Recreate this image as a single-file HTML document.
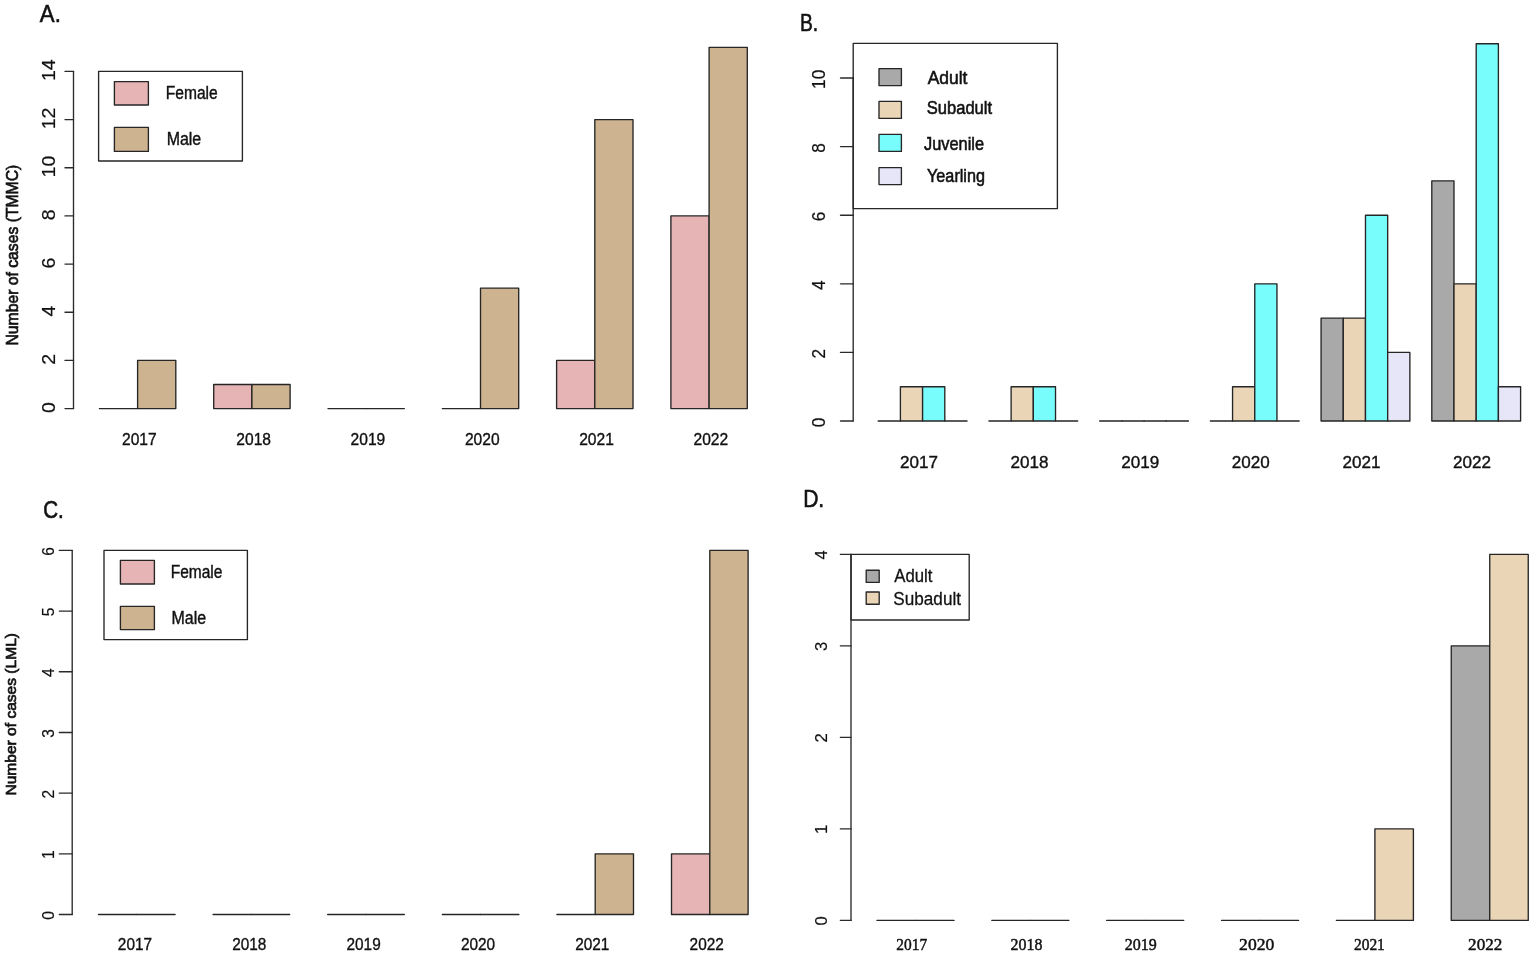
<!DOCTYPE html>
<html><head><meta charset="utf-8"><title>Figure</title>
<style>html,body{margin:0;padding:0;background:#fff;width:1535px;height:958px;overflow:hidden}svg{display:block}</style>
</head><body>
<svg width="1535" height="958" viewBox="0 0 1535 958">
<rect x="0" y="0" width="1535" height="958" fill="#fff"/>
<line x1="73.50" y1="408.60" x2="73.50" y2="71.40" stroke="#2a2a2a" stroke-width="1.35" stroke-linecap="round"/>
<line x1="65.00" y1="408.60" x2="73.50" y2="408.60" stroke="#2a2a2a" stroke-width="1.35" stroke-linecap="round"/>
<line x1="65.00" y1="360.43" x2="73.50" y2="360.43" stroke="#2a2a2a" stroke-width="1.35" stroke-linecap="round"/>
<line x1="65.00" y1="312.26" x2="73.50" y2="312.26" stroke="#2a2a2a" stroke-width="1.35" stroke-linecap="round"/>
<line x1="65.00" y1="264.09" x2="73.50" y2="264.09" stroke="#2a2a2a" stroke-width="1.35" stroke-linecap="round"/>
<line x1="65.00" y1="215.91" x2="73.50" y2="215.91" stroke="#2a2a2a" stroke-width="1.35" stroke-linecap="round"/>
<line x1="65.00" y1="167.74" x2="73.50" y2="167.74" stroke="#2a2a2a" stroke-width="1.35" stroke-linecap="round"/>
<line x1="65.00" y1="119.57" x2="73.50" y2="119.57" stroke="#2a2a2a" stroke-width="1.35" stroke-linecap="round"/>
<line x1="65.00" y1="71.40" x2="73.50" y2="71.40" stroke="#2a2a2a" stroke-width="1.35" stroke-linecap="round"/>
<line x1="99.40" y1="408.60" x2="137.60" y2="408.60" stroke="#262626" stroke-width="1.35" stroke-linecap="round"/>
<rect x="137.60" y="360.43" width="38.20" height="48.17" fill="#CDB38F" stroke="#262626" stroke-width="1.35" stroke-linejoin="round"/>
<rect x="213.70" y="384.51" width="38.20" height="24.09" fill="#E6B4B5" stroke="#262626" stroke-width="1.35" stroke-linejoin="round"/>
<rect x="251.90" y="384.51" width="38.20" height="24.09" fill="#CDB38F" stroke="#262626" stroke-width="1.35" stroke-linejoin="round"/>
<line x1="328.00" y1="408.60" x2="366.20" y2="408.60" stroke="#262626" stroke-width="1.35" stroke-linecap="round"/>
<line x1="366.20" y1="408.60" x2="404.40" y2="408.60" stroke="#262626" stroke-width="1.35" stroke-linecap="round"/>
<line x1="442.30" y1="408.60" x2="480.50" y2="408.60" stroke="#262626" stroke-width="1.35" stroke-linecap="round"/>
<rect x="480.50" y="288.17" width="38.20" height="120.43" fill="#CDB38F" stroke="#262626" stroke-width="1.35" stroke-linejoin="round"/>
<rect x="556.60" y="360.43" width="38.20" height="48.17" fill="#E6B4B5" stroke="#262626" stroke-width="1.35" stroke-linejoin="round"/>
<rect x="594.80" y="119.57" width="38.20" height="289.03" fill="#CDB38F" stroke="#262626" stroke-width="1.35" stroke-linejoin="round"/>
<rect x="670.90" y="215.91" width="38.20" height="192.69" fill="#E6B4B5" stroke="#262626" stroke-width="1.35" stroke-linejoin="round"/>
<rect x="709.10" y="47.31" width="38.20" height="361.29" fill="#CDB38F" stroke="#262626" stroke-width="1.35" stroke-linejoin="round"/>
<rect x="98.60" y="71.40" width="143.80" height="89.60" fill="none" stroke="#262626" stroke-width="1.35" stroke-linejoin="round"/>
<rect x="114.40" y="81.60" width="34.00" height="23.40" fill="#E6B4B5" stroke="#262626" stroke-width="1.35" stroke-linejoin="round"/>
<rect x="114.40" y="127.40" width="34.00" height="24.00" fill="#CDB38F" stroke="#262626" stroke-width="1.35" stroke-linejoin="round"/>
<line x1="853.20" y1="421.00" x2="853.20" y2="78.00" stroke="#2a2a2a" stroke-width="1.35" stroke-linecap="round"/>
<line x1="840.50" y1="421.00" x2="853.20" y2="421.00" stroke="#2a2a2a" stroke-width="1.35" stroke-linecap="round"/>
<line x1="840.50" y1="352.40" x2="853.20" y2="352.40" stroke="#2a2a2a" stroke-width="1.35" stroke-linecap="round"/>
<line x1="840.50" y1="283.80" x2="853.20" y2="283.80" stroke="#2a2a2a" stroke-width="1.35" stroke-linecap="round"/>
<line x1="840.50" y1="215.20" x2="853.20" y2="215.20" stroke="#2a2a2a" stroke-width="1.35" stroke-linecap="round"/>
<line x1="840.50" y1="146.60" x2="853.20" y2="146.60" stroke="#2a2a2a" stroke-width="1.35" stroke-linecap="round"/>
<line x1="840.50" y1="78.00" x2="853.20" y2="78.00" stroke="#2a2a2a" stroke-width="1.35" stroke-linecap="round"/>
<line x1="878.20" y1="421.00" x2="900.40" y2="421.00" stroke="#262626" stroke-width="1.35" stroke-linecap="round"/>
<rect x="900.40" y="386.70" width="22.20" height="34.30" fill="#EBD5B7" stroke="#262626" stroke-width="1.35" stroke-linejoin="round"/>
<rect x="922.60" y="386.70" width="22.20" height="34.30" fill="#78FCFC" stroke="#262626" stroke-width="1.35" stroke-linejoin="round"/>
<line x1="944.80" y1="421.00" x2="967.00" y2="421.00" stroke="#262626" stroke-width="1.35" stroke-linecap="round"/>
<line x1="988.92" y1="421.00" x2="1011.12" y2="421.00" stroke="#262626" stroke-width="1.35" stroke-linecap="round"/>
<rect x="1011.12" y="386.70" width="22.20" height="34.30" fill="#EBD5B7" stroke="#262626" stroke-width="1.35" stroke-linejoin="round"/>
<rect x="1033.32" y="386.70" width="22.20" height="34.30" fill="#78FCFC" stroke="#262626" stroke-width="1.35" stroke-linejoin="round"/>
<line x1="1055.52" y1="421.00" x2="1077.72" y2="421.00" stroke="#262626" stroke-width="1.35" stroke-linecap="round"/>
<line x1="1099.64" y1="421.00" x2="1121.84" y2="421.00" stroke="#262626" stroke-width="1.35" stroke-linecap="round"/>
<line x1="1121.84" y1="421.00" x2="1144.04" y2="421.00" stroke="#262626" stroke-width="1.35" stroke-linecap="round"/>
<line x1="1144.04" y1="421.00" x2="1166.24" y2="421.00" stroke="#262626" stroke-width="1.35" stroke-linecap="round"/>
<line x1="1166.24" y1="421.00" x2="1188.44" y2="421.00" stroke="#262626" stroke-width="1.35" stroke-linecap="round"/>
<line x1="1210.36" y1="421.00" x2="1232.56" y2="421.00" stroke="#262626" stroke-width="1.35" stroke-linecap="round"/>
<rect x="1232.56" y="386.70" width="22.20" height="34.30" fill="#EBD5B7" stroke="#262626" stroke-width="1.35" stroke-linejoin="round"/>
<rect x="1254.76" y="283.80" width="22.20" height="137.20" fill="#78FCFC" stroke="#262626" stroke-width="1.35" stroke-linejoin="round"/>
<line x1="1276.96" y1="421.00" x2="1299.16" y2="421.00" stroke="#262626" stroke-width="1.35" stroke-linecap="round"/>
<rect x="1321.08" y="318.10" width="22.20" height="102.90" fill="#A9A9A9" stroke="#262626" stroke-width="1.35" stroke-linejoin="round"/>
<rect x="1343.28" y="318.10" width="22.20" height="102.90" fill="#EBD5B7" stroke="#262626" stroke-width="1.35" stroke-linejoin="round"/>
<rect x="1365.48" y="215.20" width="22.20" height="205.80" fill="#78FCFC" stroke="#262626" stroke-width="1.35" stroke-linejoin="round"/>
<rect x="1387.68" y="352.40" width="22.20" height="68.60" fill="#E6E6F8" stroke="#262626" stroke-width="1.35" stroke-linejoin="round"/>
<rect x="1431.80" y="180.90" width="22.20" height="240.10" fill="#A9A9A9" stroke="#262626" stroke-width="1.35" stroke-linejoin="round"/>
<rect x="1454.00" y="283.80" width="22.20" height="137.20" fill="#EBD5B7" stroke="#262626" stroke-width="1.35" stroke-linejoin="round"/>
<rect x="1476.20" y="43.70" width="22.20" height="377.30" fill="#78FCFC" stroke="#262626" stroke-width="1.35" stroke-linejoin="round"/>
<rect x="1498.40" y="386.70" width="22.20" height="34.30" fill="#E6E6F8" stroke="#262626" stroke-width="1.35" stroke-linejoin="round"/>
<rect x="853.20" y="43.40" width="204.20" height="165.20" fill="none" stroke="#262626" stroke-width="1.35" stroke-linejoin="round"/>
<rect x="879.00" y="68.60" width="22.40" height="17.00" fill="#A9A9A9" stroke="#262626" stroke-width="1.35" stroke-linejoin="round"/>
<rect x="879.00" y="101.40" width="22.40" height="17.00" fill="#EBD5B7" stroke="#262626" stroke-width="1.35" stroke-linejoin="round"/>
<rect x="879.00" y="134.40" width="22.40" height="17.00" fill="#78FCFC" stroke="#262626" stroke-width="1.35" stroke-linejoin="round"/>
<rect x="879.00" y="167.60" width="22.40" height="17.00" fill="#E6E6F8" stroke="#262626" stroke-width="1.35" stroke-linejoin="round"/>
<line x1="72.20" y1="914.50" x2="72.20" y2="550.40" stroke="#2a2a2a" stroke-width="1.35" stroke-linecap="round"/>
<line x1="59.30" y1="914.50" x2="72.20" y2="914.50" stroke="#2a2a2a" stroke-width="1.35" stroke-linecap="round"/>
<line x1="59.30" y1="853.82" x2="72.20" y2="853.82" stroke="#2a2a2a" stroke-width="1.35" stroke-linecap="round"/>
<line x1="59.30" y1="793.13" x2="72.20" y2="793.13" stroke="#2a2a2a" stroke-width="1.35" stroke-linecap="round"/>
<line x1="59.30" y1="732.45" x2="72.20" y2="732.45" stroke="#2a2a2a" stroke-width="1.35" stroke-linecap="round"/>
<line x1="59.30" y1="671.77" x2="72.20" y2="671.77" stroke="#2a2a2a" stroke-width="1.35" stroke-linecap="round"/>
<line x1="59.30" y1="611.08" x2="72.20" y2="611.08" stroke="#2a2a2a" stroke-width="1.35" stroke-linecap="round"/>
<line x1="59.30" y1="550.40" x2="72.20" y2="550.40" stroke="#2a2a2a" stroke-width="1.35" stroke-linecap="round"/>
<line x1="98.50" y1="914.50" x2="136.80" y2="914.50" stroke="#262626" stroke-width="1.35" stroke-linecap="round"/>
<line x1="136.80" y1="914.50" x2="175.10" y2="914.50" stroke="#262626" stroke-width="1.35" stroke-linecap="round"/>
<line x1="213.10" y1="914.50" x2="251.40" y2="914.50" stroke="#262626" stroke-width="1.35" stroke-linecap="round"/>
<line x1="251.40" y1="914.50" x2="289.70" y2="914.50" stroke="#262626" stroke-width="1.35" stroke-linecap="round"/>
<line x1="327.70" y1="914.50" x2="366.00" y2="914.50" stroke="#262626" stroke-width="1.35" stroke-linecap="round"/>
<line x1="366.00" y1="914.50" x2="404.30" y2="914.50" stroke="#262626" stroke-width="1.35" stroke-linecap="round"/>
<line x1="442.30" y1="914.50" x2="480.60" y2="914.50" stroke="#262626" stroke-width="1.35" stroke-linecap="round"/>
<line x1="480.60" y1="914.50" x2="518.90" y2="914.50" stroke="#262626" stroke-width="1.35" stroke-linecap="round"/>
<line x1="556.90" y1="914.50" x2="595.20" y2="914.50" stroke="#262626" stroke-width="1.35" stroke-linecap="round"/>
<rect x="595.20" y="853.82" width="38.30" height="60.68" fill="#CDB38F" stroke="#262626" stroke-width="1.35" stroke-linejoin="round"/>
<rect x="671.50" y="853.82" width="38.30" height="60.68" fill="#E6B4B5" stroke="#262626" stroke-width="1.35" stroke-linejoin="round"/>
<rect x="709.80" y="550.40" width="38.30" height="364.10" fill="#CDB38F" stroke="#262626" stroke-width="1.35" stroke-linejoin="round"/>
<rect x="104.00" y="550.40" width="143.40" height="89.20" fill="none" stroke="#262626" stroke-width="1.35" stroke-linejoin="round"/>
<rect x="120.40" y="560.40" width="34.00" height="23.60" fill="#E6B4B5" stroke="#262626" stroke-width="1.35" stroke-linejoin="round"/>
<rect x="120.40" y="606.40" width="34.00" height="23.20" fill="#CDB38F" stroke="#262626" stroke-width="1.35" stroke-linejoin="round"/>
<line x1="851.00" y1="920.40" x2="851.00" y2="554.40" stroke="#2a2a2a" stroke-width="1.35" stroke-linecap="round"/>
<line x1="840.40" y1="920.40" x2="851.00" y2="920.40" stroke="#2a2a2a" stroke-width="1.35" stroke-linecap="round"/>
<line x1="840.40" y1="828.90" x2="851.00" y2="828.90" stroke="#2a2a2a" stroke-width="1.35" stroke-linecap="round"/>
<line x1="840.40" y1="737.40" x2="851.00" y2="737.40" stroke="#2a2a2a" stroke-width="1.35" stroke-linecap="round"/>
<line x1="840.40" y1="645.90" x2="851.00" y2="645.90" stroke="#2a2a2a" stroke-width="1.35" stroke-linecap="round"/>
<line x1="840.40" y1="554.40" x2="851.00" y2="554.40" stroke="#2a2a2a" stroke-width="1.35" stroke-linecap="round"/>
<line x1="877.00" y1="920.40" x2="915.50" y2="920.40" stroke="#262626" stroke-width="1.35" stroke-linecap="round"/>
<line x1="915.50" y1="920.40" x2="954.00" y2="920.40" stroke="#262626" stroke-width="1.35" stroke-linecap="round"/>
<line x1="991.85" y1="920.40" x2="1030.35" y2="920.40" stroke="#262626" stroke-width="1.35" stroke-linecap="round"/>
<line x1="1030.35" y1="920.40" x2="1068.85" y2="920.40" stroke="#262626" stroke-width="1.35" stroke-linecap="round"/>
<line x1="1106.70" y1="920.40" x2="1145.20" y2="920.40" stroke="#262626" stroke-width="1.35" stroke-linecap="round"/>
<line x1="1145.20" y1="920.40" x2="1183.70" y2="920.40" stroke="#262626" stroke-width="1.35" stroke-linecap="round"/>
<line x1="1221.55" y1="920.40" x2="1260.05" y2="920.40" stroke="#262626" stroke-width="1.35" stroke-linecap="round"/>
<line x1="1260.05" y1="920.40" x2="1298.55" y2="920.40" stroke="#262626" stroke-width="1.35" stroke-linecap="round"/>
<line x1="1336.40" y1="920.40" x2="1374.90" y2="920.40" stroke="#262626" stroke-width="1.35" stroke-linecap="round"/>
<rect x="1374.90" y="828.90" width="38.50" height="91.50" fill="#EBD5B7" stroke="#262626" stroke-width="1.35" stroke-linejoin="round"/>
<rect x="1451.25" y="645.90" width="38.50" height="274.50" fill="#A9A9A9" stroke="#262626" stroke-width="1.35" stroke-linejoin="round"/>
<rect x="1489.75" y="554.40" width="38.50" height="366.00" fill="#EBD5B7" stroke="#262626" stroke-width="1.35" stroke-linejoin="round"/>
<rect x="851.00" y="554.40" width="118.20" height="65.60" fill="none" stroke="#262626" stroke-width="1.35" stroke-linejoin="round"/>
<rect x="866.20" y="570.20" width="13.00" height="12.20" fill="#A9A9A9" stroke="#262626" stroke-width="1.35" stroke-linejoin="round"/>
<rect x="866.20" y="592.00" width="13.00" height="12.20" fill="#EBD5B7" stroke="#262626" stroke-width="1.35" stroke-linejoin="round"/>
<text transform="translate(54.71,364.72) rotate(-90)" font-size="17.64" font-family='"Liberation Sans", Arial, Helvetica, sans-serif' fill="#111" stroke="#111" stroke-width="0.20" textLength="10.85" lengthAdjust="spacingAndGlyphs">2</text>
<text transform="translate(54.71,316.55) rotate(-90)" font-size="17.64" font-family='"Liberation Sans", Arial, Helvetica, sans-serif' fill="#111" stroke="#111" stroke-width="0.20" textLength="10.85" lengthAdjust="spacingAndGlyphs">4</text>
<text transform="translate(54.71,268.38) rotate(-90)" font-size="17.64" font-family='"Liberation Sans", Arial, Helvetica, sans-serif' fill="#111" stroke="#111" stroke-width="0.20" textLength="10.85" lengthAdjust="spacingAndGlyphs">6</text>
<text transform="translate(54.71,220.21) rotate(-90)" font-size="17.64" font-family='"Liberation Sans", Arial, Helvetica, sans-serif' fill="#111" stroke="#111" stroke-width="0.20" textLength="10.85" lengthAdjust="spacingAndGlyphs">8</text>
<text transform="translate(54.71,177.46) rotate(-90)" font-size="17.64" font-family='"Liberation Sans", Arial, Helvetica, sans-serif' fill="#111" stroke="#111" stroke-width="0.20" textLength="21.69" lengthAdjust="spacingAndGlyphs">10</text>
<text transform="translate(54.71,129.29) rotate(-90)" font-size="17.64" font-family='"Liberation Sans", Arial, Helvetica, sans-serif' fill="#111" stroke="#111" stroke-width="0.20" textLength="21.69" lengthAdjust="spacingAndGlyphs">12</text>
<text transform="translate(54.71,81.12) rotate(-90)" font-size="17.64" font-family='"Liberation Sans", Arial, Helvetica, sans-serif' fill="#111" stroke="#111" stroke-width="0.20" textLength="21.69" lengthAdjust="spacingAndGlyphs">14</text>
<text transform="translate(54.71,412.89) rotate(-90)" font-size="17.64" font-family='"Liberation Sans", Arial, Helvetica, sans-serif' fill="#111" stroke="#111" stroke-width="0.20" textLength="10.85" lengthAdjust="spacingAndGlyphs">0</text>
<text x="122.00" y="444.55" font-size="16.44" font-family='"Liberation Sans", Arial, Helvetica, sans-serif' fill="#111" stroke="#111" stroke-width="0.35" textLength="34.68" lengthAdjust="spacingAndGlyphs">2017</text>
<text x="236.30" y="444.55" font-size="16.44" font-family='"Liberation Sans", Arial, Helvetica, sans-serif' fill="#111" stroke="#111" stroke-width="0.35" textLength="34.68" lengthAdjust="spacingAndGlyphs">2018</text>
<text x="350.60" y="444.55" font-size="16.44" font-family='"Liberation Sans", Arial, Helvetica, sans-serif' fill="#111" stroke="#111" stroke-width="0.35" textLength="34.68" lengthAdjust="spacingAndGlyphs">2019</text>
<text x="464.90" y="444.55" font-size="16.44" font-family='"Liberation Sans", Arial, Helvetica, sans-serif' fill="#111" stroke="#111" stroke-width="0.35" textLength="34.68" lengthAdjust="spacingAndGlyphs">2020</text>
<text x="579.20" y="444.55" font-size="16.44" font-family='"Liberation Sans", Arial, Helvetica, sans-serif' fill="#111" stroke="#111" stroke-width="0.35" textLength="34.68" lengthAdjust="spacingAndGlyphs">2021</text>
<text x="693.50" y="444.55" font-size="16.44" font-family='"Liberation Sans", Arial, Helvetica, sans-serif' fill="#111" stroke="#111" stroke-width="0.35" textLength="34.68" lengthAdjust="spacingAndGlyphs">2022</text>
<text x="165.72" y="99.32" font-size="17.72" font-family='"Liberation Sans", Arial, Helvetica, sans-serif' fill="#111" stroke="#111" stroke-width="0.40" textLength="51.95" lengthAdjust="spacingAndGlyphs">Female</text>
<text x="166.67" y="145.40" font-size="17.72" font-family='"Liberation Sans", Arial, Helvetica, sans-serif' fill="#111" stroke="#111" stroke-width="0.40" textLength="34.59" lengthAdjust="spacingAndGlyphs">Male</text>
<text transform="translate(18.34,345.55) rotate(-90)" font-size="16.93" font-family='"Liberation Sans", Arial, Helvetica, sans-serif' fill="#111" stroke="#111" stroke-width="0.70" textLength="180.85" lengthAdjust="spacingAndGlyphs">Number of cases (TMMC)</text>
<text x="39.85" y="21.57" font-size="24.05" font-family='"Liberation Sans", Arial, Helvetica, sans-serif' fill="#111" stroke="#111" stroke-width="0.60" textLength="20.96" lengthAdjust="spacingAndGlyphs">A.</text>
<text transform="translate(824.80,358.54) rotate(-90)" font-size="17.64" font-family='"Liberation Sans", Arial, Helvetica, sans-serif' fill="#111" stroke="#111" stroke-width="0.20" textLength="9.64" lengthAdjust="spacingAndGlyphs">2</text>
<text transform="translate(824.80,289.94) rotate(-90)" font-size="17.64" font-family='"Liberation Sans", Arial, Helvetica, sans-serif' fill="#111" stroke="#111" stroke-width="0.20" textLength="9.64" lengthAdjust="spacingAndGlyphs">4</text>
<text transform="translate(824.80,221.34) rotate(-90)" font-size="17.64" font-family='"Liberation Sans", Arial, Helvetica, sans-serif' fill="#111" stroke="#111" stroke-width="0.20" textLength="9.64" lengthAdjust="spacingAndGlyphs">6</text>
<text transform="translate(824.80,152.74) rotate(-90)" font-size="17.64" font-family='"Liberation Sans", Arial, Helvetica, sans-serif' fill="#111" stroke="#111" stroke-width="0.20" textLength="9.64" lengthAdjust="spacingAndGlyphs">8</text>
<text transform="translate(824.80,88.96) rotate(-90)" font-size="17.64" font-family='"Liberation Sans", Arial, Helvetica, sans-serif' fill="#111" stroke="#111" stroke-width="0.20" textLength="19.27" lengthAdjust="spacingAndGlyphs">10</text>
<text transform="translate(824.80,427.14) rotate(-90)" font-size="17.64" font-family='"Liberation Sans", Arial, Helvetica, sans-serif' fill="#111" stroke="#111" stroke-width="0.20" textLength="9.64" lengthAdjust="spacingAndGlyphs">0</text>
<text x="900.01" y="468.32" font-size="15.88" font-family='"Liberation Sans", Arial, Helvetica, sans-serif' fill="#111" stroke="#111" stroke-width="0.35" textLength="38.00" lengthAdjust="spacingAndGlyphs">2017</text>
<text x="1010.61" y="468.32" font-size="15.88" font-family='"Liberation Sans", Arial, Helvetica, sans-serif' fill="#111" stroke="#111" stroke-width="0.35" textLength="38.00" lengthAdjust="spacingAndGlyphs">2018</text>
<text x="1121.21" y="468.32" font-size="15.88" font-family='"Liberation Sans", Arial, Helvetica, sans-serif' fill="#111" stroke="#111" stroke-width="0.35" textLength="38.00" lengthAdjust="spacingAndGlyphs">2019</text>
<text x="1231.81" y="468.32" font-size="15.88" font-family='"Liberation Sans", Arial, Helvetica, sans-serif' fill="#111" stroke="#111" stroke-width="0.35" textLength="38.00" lengthAdjust="spacingAndGlyphs">2020</text>
<text x="1342.41" y="468.32" font-size="15.88" font-family='"Liberation Sans", Arial, Helvetica, sans-serif' fill="#111" stroke="#111" stroke-width="0.35" textLength="38.00" lengthAdjust="spacingAndGlyphs">2021</text>
<text x="1453.01" y="468.32" font-size="15.88" font-family='"Liberation Sans", Arial, Helvetica, sans-serif' fill="#111" stroke="#111" stroke-width="0.35" textLength="38.00" lengthAdjust="spacingAndGlyphs">2022</text>
<text x="927.65" y="83.61" font-size="19.26" font-family='"Liberation Sans", Arial, Helvetica, sans-serif' fill="#111" stroke="#111" stroke-width="0.60" textLength="39.81" lengthAdjust="spacingAndGlyphs">Adult</text>
<text x="926.74" y="114.49" font-size="19.26" font-family='"Liberation Sans", Arial, Helvetica, sans-serif' fill="#111" stroke="#111" stroke-width="0.60" textLength="65.38" lengthAdjust="spacingAndGlyphs">Subadult</text>
<text x="924.08" y="149.54" font-size="19.26" font-family='"Liberation Sans", Arial, Helvetica, sans-serif' fill="#111" stroke="#111" stroke-width="0.60" textLength="60.00" lengthAdjust="spacingAndGlyphs">Juvenile</text>
<text x="927.06" y="181.54" font-size="19.26" font-family='"Liberation Sans", Arial, Helvetica, sans-serif' fill="#111" stroke="#111" stroke-width="0.60" textLength="57.94" lengthAdjust="spacingAndGlyphs">Yearling</text>
<text x="800.01" y="30.55" font-size="24.05" font-family='"Liberation Sans", Arial, Helvetica, sans-serif' fill="#111" stroke="#111" stroke-width="0.60" textLength="18.21" lengthAdjust="spacingAndGlyphs">B.</text>
<text transform="translate(54.46,859.10) rotate(-90)" font-size="17.37" font-family='"Liberation Sans", Arial, Helvetica, sans-serif' fill="#111" stroke="#111" stroke-width="0.20" textLength="8.70" lengthAdjust="spacingAndGlyphs">1</text>
<text transform="translate(54.46,798.42) rotate(-90)" font-size="17.37" font-family='"Liberation Sans", Arial, Helvetica, sans-serif' fill="#111" stroke="#111" stroke-width="0.20" textLength="8.70" lengthAdjust="spacingAndGlyphs">2</text>
<text transform="translate(54.46,737.73) rotate(-90)" font-size="17.37" font-family='"Liberation Sans", Arial, Helvetica, sans-serif' fill="#111" stroke="#111" stroke-width="0.20" textLength="8.70" lengthAdjust="spacingAndGlyphs">3</text>
<text transform="translate(54.46,677.05) rotate(-90)" font-size="17.37" font-family='"Liberation Sans", Arial, Helvetica, sans-serif' fill="#111" stroke="#111" stroke-width="0.20" textLength="8.70" lengthAdjust="spacingAndGlyphs">4</text>
<text transform="translate(54.46,616.37) rotate(-90)" font-size="17.37" font-family='"Liberation Sans", Arial, Helvetica, sans-serif' fill="#111" stroke="#111" stroke-width="0.20" textLength="8.70" lengthAdjust="spacingAndGlyphs">5</text>
<text transform="translate(54.46,555.68) rotate(-90)" font-size="17.37" font-family='"Liberation Sans", Arial, Helvetica, sans-serif' fill="#111" stroke="#111" stroke-width="0.20" textLength="8.70" lengthAdjust="spacingAndGlyphs">6</text>
<text transform="translate(54.46,919.78) rotate(-90)" font-size="17.37" font-family='"Liberation Sans", Arial, Helvetica, sans-serif' fill="#111" stroke="#111" stroke-width="0.20" textLength="8.70" lengthAdjust="spacingAndGlyphs">0</text>
<text x="117.83" y="950.35" font-size="16.56" font-family='"Liberation Sans", Arial, Helvetica, sans-serif' fill="#111" stroke="#111" stroke-width="0.35" textLength="34.20" lengthAdjust="spacingAndGlyphs">2017</text>
<text x="232.18" y="950.35" font-size="16.56" font-family='"Liberation Sans", Arial, Helvetica, sans-serif' fill="#111" stroke="#111" stroke-width="0.35" textLength="34.20" lengthAdjust="spacingAndGlyphs">2018</text>
<text x="346.53" y="950.35" font-size="16.56" font-family='"Liberation Sans", Arial, Helvetica, sans-serif' fill="#111" stroke="#111" stroke-width="0.35" textLength="34.20" lengthAdjust="spacingAndGlyphs">2019</text>
<text x="460.88" y="950.35" font-size="16.56" font-family='"Liberation Sans", Arial, Helvetica, sans-serif' fill="#111" stroke="#111" stroke-width="0.35" textLength="34.20" lengthAdjust="spacingAndGlyphs">2020</text>
<text x="575.23" y="950.35" font-size="16.56" font-family='"Liberation Sans", Arial, Helvetica, sans-serif' fill="#111" stroke="#111" stroke-width="0.35" textLength="34.20" lengthAdjust="spacingAndGlyphs">2021</text>
<text x="689.58" y="950.35" font-size="16.56" font-family='"Liberation Sans", Arial, Helvetica, sans-serif' fill="#111" stroke="#111" stroke-width="0.35" textLength="34.20" lengthAdjust="spacingAndGlyphs">2022</text>
<text x="170.73" y="577.51" font-size="17.71" font-family='"Liberation Sans", Arial, Helvetica, sans-serif' fill="#111" stroke="#111" stroke-width="0.40" textLength="51.63" lengthAdjust="spacingAndGlyphs">Female</text>
<text x="171.53" y="624.47" font-size="17.71" font-family='"Liberation Sans", Arial, Helvetica, sans-serif' fill="#111" stroke="#111" stroke-width="0.40" textLength="34.60" lengthAdjust="spacingAndGlyphs">Male</text>
<text transform="translate(16.41,795.55) rotate(-90)" font-size="15.45" font-family='"Liberation Sans", Arial, Helvetica, sans-serif' fill="#111" stroke="#111" stroke-width="0.70" textLength="162.53" lengthAdjust="spacingAndGlyphs">Number of cases (LML)</text>
<text x="43.16" y="518.18" font-size="23.11" font-family='"Liberation Sans", Arial, Helvetica, sans-serif' fill="#111" stroke="#111" stroke-width="0.60" textLength="20.55" lengthAdjust="spacingAndGlyphs">C.</text>
<text transform="translate(827.33,833.92) rotate(-90)" font-size="16.90" font-family='"Liberation Sans", Arial, Helvetica, sans-serif' fill="#111" stroke="#111" stroke-width="0.20" textLength="9.23" lengthAdjust="spacingAndGlyphs">1</text>
<text transform="translate(827.33,742.42) rotate(-90)" font-size="16.90" font-family='"Liberation Sans", Arial, Helvetica, sans-serif' fill="#111" stroke="#111" stroke-width="0.20" textLength="9.23" lengthAdjust="spacingAndGlyphs">2</text>
<text transform="translate(827.33,650.92) rotate(-90)" font-size="16.90" font-family='"Liberation Sans", Arial, Helvetica, sans-serif' fill="#111" stroke="#111" stroke-width="0.20" textLength="9.23" lengthAdjust="spacingAndGlyphs">3</text>
<text transform="translate(827.33,559.42) rotate(-90)" font-size="16.90" font-family='"Liberation Sans", Arial, Helvetica, sans-serif' fill="#111" stroke="#111" stroke-width="0.20" textLength="9.23" lengthAdjust="spacingAndGlyphs">4</text>
<text transform="translate(827.33,925.42) rotate(-90)" font-size="16.90" font-family='"Liberation Sans", Arial, Helvetica, sans-serif' fill="#111" stroke="#111" stroke-width="0.20" textLength="9.23" lengthAdjust="spacingAndGlyphs">0</text>
<text x="896.34" y="950.49" font-size="17.76" font-family='"Liberation Serif", "Times New Roman", serif' fill="#111" stroke="#111" stroke-width="0.50" textLength="30.79" lengthAdjust="spacingAndGlyphs">2017</text>
<text x="1010.53" y="950.49" font-size="17.76" font-family='"Liberation Serif", "Times New Roman", serif' fill="#111" stroke="#111" stroke-width="0.50" textLength="31.91" lengthAdjust="spacingAndGlyphs">2018</text>
<text x="1124.63" y="950.49" font-size="17.76" font-family='"Liberation Serif", "Times New Roman", serif' fill="#111" stroke="#111" stroke-width="0.50" textLength="32.02" lengthAdjust="spacingAndGlyphs">2019</text>
<text x="1239.09" y="950.49" font-size="17.76" font-family='"Liberation Serif", "Times New Roman", serif' fill="#111" stroke="#111" stroke-width="0.50" textLength="35.19" lengthAdjust="spacingAndGlyphs">2020</text>
<text x="1353.94" y="950.49" font-size="17.76" font-family='"Liberation Serif", "Times New Roman", serif' fill="#111" stroke="#111" stroke-width="0.50" textLength="30.89" lengthAdjust="spacingAndGlyphs">2021</text>
<text x="1468.10" y="950.49" font-size="17.76" font-family='"Liberation Serif", "Times New Roman", serif' fill="#111" stroke="#111" stroke-width="0.50" textLength="34.17" lengthAdjust="spacingAndGlyphs">2022</text>
<text x="894.29" y="582.42" font-size="18.91" font-family='"Liberation Sans", Arial, Helvetica, sans-serif' fill="#111" stroke="#111" stroke-width="0.30" textLength="38.19" lengthAdjust="spacingAndGlyphs">Adult</text>
<text x="893.36" y="604.74" font-size="18.91" font-family='"Liberation Sans", Arial, Helvetica, sans-serif' fill="#111" stroke="#111" stroke-width="0.30" textLength="67.63" lengthAdjust="spacingAndGlyphs">Subadult</text>
<text x="803.16" y="507.30" font-size="23.63" font-family='"Liberation Sans", Arial, Helvetica, sans-serif' fill="#111" stroke="#111" stroke-width="0.60" textLength="21.05" lengthAdjust="spacingAndGlyphs">D.</text>
</svg>
</body></html>
